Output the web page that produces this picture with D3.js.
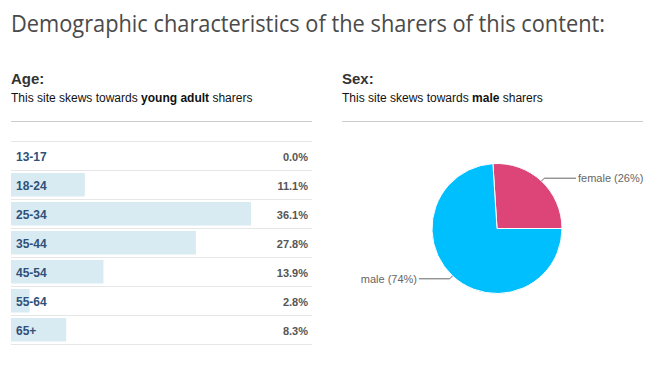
<!DOCTYPE html>
<html><head><meta charset="utf-8">
<script src="https://cdn.jsdelivr.net/npm/d3@7"></script>
<style>
html,body{margin:0;padding:0;background:#fff;}
svg{display:block;}
</style></head>
<body>
<script>
const ageGroups = ["13-17","18-24","25-34","35-44","45-54","55-64","65+"];
const agePercents = [0.0, 11.1, 36.1, 27.8, 13.9, 2.8, 8.3];
const sexLabels = ["female","male"];
const sexPercents = [26, 74];

const W = 652, H = 366;
const svg = d3.select("body").append("svg").attr("width", W).attr("height", H);
const bodyFont = "'Liberation Sans', Arial, Helvetica, sans-serif";

// Title
svg.append("text").attr("x", 11).attr("y", 32)
  .attr("font-family", "'Open Sans', 'Noto Sans', sans-serif")
  .attr("font-size", 23).attr("fill", "#4a4a4a")
  .attr("textLength", 594).attr("lengthAdjust", "spacingAndGlyphs")
  .text("Demographic characteristics of the sharers of this content:");

// Section headers
function header(x, title, pre, bold, post) {
  svg.append("text").attr("x", x).attr("y", 84)
    .attr("font-family", bodyFont).attr("font-size", 15).attr("font-weight", "bold")
    .attr("fill", "#333").text(title);
  const t = svg.append("text").attr("x", x).attr("y", 102)
    .attr("font-family", bodyFont).attr("font-size", 12).attr("fill", "#111");
  t.append("tspan").text(pre);
  t.append("tspan").attr("font-weight", "bold").text(bold);
  t.append("tspan").text(post);
  svg.append("line").attr("x1", x).attr("x2", x + 301).attr("y1", 121.5).attr("y2", 121.5)
    .attr("stroke", "#cccccc").attr("stroke-width", 1);
}
header(11, "Age:", "This site skews towards ", "young adult", " sharers");
header(342, "Sex:", "This site skews towards ", "male", " sharers");

// Age bars
const y = d3.scaleBand().domain(ageGroups).range([141, 344]).paddingInner(0).paddingOuter(0);
const x = d3.scaleLinear().domain([0, 100]).range([0, 665]);
const left = 11, right = 312;
const ageData = ageGroups.map((g, i) => ({g, v: agePercents[i]}));

const rows = svg.append("g");
rows.selectAll("rect.bar").data(ageData).enter().append("rect")
  .attr("class", "bar")
  .attr("x", left).attr("y", d => y(d.g) + 3)
  .attr("width", d => x(d.v)).attr("height", y.bandwidth() - 5.5)
  .attr("fill", "#d8ebf3");

const lineYs = ageGroups.map(g => y(g)).concat([y(ageGroups[ageGroups.length - 1]) + y.bandwidth()]);
rows.selectAll("line.row").data(lineYs).enter().append("line")
  .attr("x1", left).attr("x2", right)
  .attr("y1", d => Math.round(d) + 0.5).attr("y2", d => Math.round(d) + 0.5)
  .attr("stroke", "#e6e6e6").attr("stroke-width", 1);

rows.selectAll("text.lab").data(ageData).enter().append("text")
  .attr("x", 16).attr("y", d => y(d.g) + 19.5)
  .attr("font-family", bodyFont).attr("font-size", 12).attr("font-weight", "bold")
  .attr("fill", "#2f5078").text(d => d.g);

rows.selectAll("text.val").data(ageData).enter().append("text")
  .attr("x", 308).attr("y", d => y(d.g) + 19.5).attr("text-anchor", "end")
  .attr("font-family", bodyFont).attr("font-size", 11).attr("font-weight", "bold")
  .attr("fill", "#555").text(d => d.v.toFixed(1) + "%");

// Pie
const cx = 497, cy = 228.5, r = 65;
const sexData = sexLabels.map((s, i) => ({s, v: sexPercents[i]}));
const total = d3.sum(sexPercents);
const start = Math.PI / 2 - (sexPercents[0] / total) * 2 * Math.PI;
const pie = d3.pie().value(d => d.v).sort(null).startAngle(start).endAngle(start + 2 * Math.PI);
const arcs = pie(sexData);
const arc = d3.arc().innerRadius(0).outerRadius(r);
const colors = d3.scaleOrdinal().domain(sexLabels).range(["#dd4477", "#00bfff"]);
const pg = svg.append("g").attr("transform", `translate(${cx},${cy})`);
pg.selectAll("path").data(arcs).enter().append("path")
  .attr("d", arc).attr("fill", d => colors(d.data.s))
  .attr("stroke", "#fff").attr("stroke-width", 1);

arcs.forEach(a => {
  const mid = (a.startAngle + a.endAngle) / 2;
  const sx = Math.sin(mid), sy = -Math.cos(mid);
  const p0 = [r * sx, r * sy];
  const p1 = [(r + 4) * sx, (r + 4) * sy];
  const rightSide = sx > 0;
  const endX = rightSide ? 79 : -78;
  pg.append("polyline")
    .attr("points", [p0, p1, [endX, p1[1]]].map(p => p.join(",")).join(" "))
    .attr("fill", "none").attr("stroke", "#666").attr("stroke-width", 1);
  pg.append("text")
    .attr("x", rightSide ? endX + 2 : endX - 2).attr("y", p1[1] + 4)
    .attr("text-anchor", rightSide ? "start" : "end")
    .attr("font-family", bodyFont).attr("font-size", 11).attr("fill", "#666")
    .text(`${a.data.s} (${a.data.v}%)`);
});
</script>
</body></html>
